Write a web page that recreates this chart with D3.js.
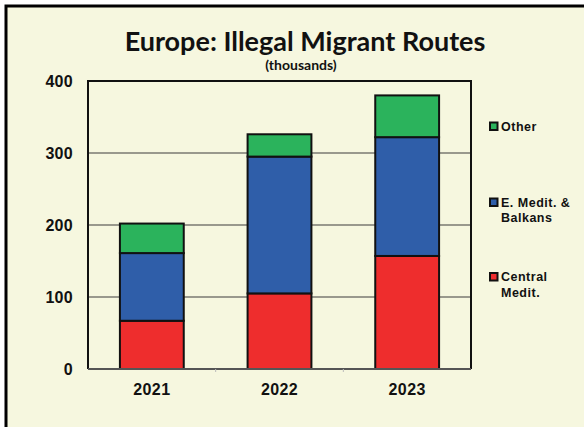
<!DOCTYPE html>
<html>
<head>
<meta charset="utf-8">
<script src="https://cdn.jsdelivr.net/npm/d3@7"></script>
<style>
  html, body { margin: 0; padding: 0; background: #fff; }
  svg { display: block; }
</style>
</head>
<body>
<svg id="chart" width="584" height="427"></svg>
<script>
// Data (thousands of detections)
const years = ["2021", "2022", "2023"];
const centralMedit = [67, 105, 157];
const eastMeditBalkans = [94, 190, 165];
const other = [41, 31, 58];
const yTicks = [0, 100, 200, 300, 400];

const seriesNames = ["Central Medit.", "E. Medit. & Balkans", "Other"];
const seriesColors = ["#ee2d2d", "#2f5ea9", "#2bb35c"];
const legendLines = [["Other"], ["E. Medit. &", "Balkans"], ["Central", "Medit."]];

const rows = years.map((y, i) => ({
  year: y,
  "Central Medit.": centralMedit[i],
  "E. Medit. & Balkans": eastMeditBalkans[i],
  "Other": other[i]
}));

const svg = d3.select("#chart");
const W = 584, H = 427;
const bg = "#f6f7df";
const sans = "Liberation Sans, Arial, sans-serif";

// Panel background and frame
svg.append("rect").attr("x", 0).attr("y", 0).attr("width", W).attr("height", H).attr("fill", "#fff");
svg.append("rect").attr("x", 6).attr("y", 6).attr("width", W + 20).attr("height", H + 20)
  .attr("fill", bg).attr("stroke", "#000").attr("stroke-width", 3);

const plot = { left: 88, right: 471, top: 81, bottom: 369 };

const x = d3.scaleBand().domain(years).range([plot.left, plot.right]).paddingInner(0.5).paddingOuter(0.25);
const y = d3.scaleLinear().domain([0, 400]).range([plot.bottom, plot.top]);

// Gridlines
svg.append("g").selectAll("line").data(yTicks.filter(t => t > 0 && t < 400)).join("line")
  .attr("x1", plot.left).attr("x2", plot.right)
  .attr("y1", d => y(d)).attr("y2", d => y(d))
  .attr("stroke", "#7a7a72").attr("stroke-width", 1.5);

// Stacked bars
const stack = d3.stack().keys(seriesNames);
const layers = stack(rows);
const g = svg.append("g");
layers.forEach((layer, li) => {
  g.append("g").selectAll("rect").data(layer).join("rect")
    .attr("x", d => x(d.data.year))
    .attr("width", x.bandwidth())
    .attr("y", d => y(d[1]))
    .attr("height", d => y(d[0]) - y(d[1]))
    .attr("fill", seriesColors[li])
    .attr("stroke", "#111")
    .attr("stroke-width", 2);
});

// Plot frame: top, left, right in black
svg.append("path")
  .attr("d", `M${plot.left},${plot.bottom}V${plot.top}H${plot.right}V${plot.bottom}`)
  .attr("fill", "none").attr("stroke", "#111").attr("stroke-width", 2);

// Bottom axis
const xAxis = d3.axisBottom(x).tickSize(0).tickPadding(15);
const xa = svg.append("g").attr("transform", `translate(0,${plot.bottom})`).call(xAxis);
xa.select(".domain").remove();
svg.append("line").attr("x1", plot.left).attr("x2", plot.right)
  .attr("y1", plot.bottom).attr("y2", plot.bottom)
  .attr("stroke", "#555").attr("stroke-width", 2);
// small separators between categories
const step = x.step();
const sepX = d => plot.left + x.paddingOuter() * step + d * step - x.paddingInner() * step / 2;
svg.append("g").selectAll("line").data(d3.range(1, years.length)).join("line")
  .attr("x1", sepX).attr("x2", sepX)
  .attr("y1", plot.bottom).attr("y2", plot.bottom + 3)
  .attr("stroke", "#bbb").attr("stroke-width", 1);
xa.selectAll("text")
  .attr("font-family", sans).attr("letter-spacing", 0.4)
  .attr("font-weight", "bold").attr("font-size", 16).attr("fill", "#111");

// Left axis labels
const yAxis = d3.axisLeft(y).tickValues(yTicks).tickSize(0).tickPadding(15);
const ya = svg.append("g").attr("transform", `translate(${plot.left},0)`).call(yAxis);
ya.select(".domain").remove();
ya.selectAll("text")
  .attr("font-family", sans).attr("letter-spacing", 0.3)
  .attr("font-weight", "bold").attr("font-size", 16).attr("fill", "#111");

// Titles
svg.append("text").attr("x", 305).attr("y", 51).attr("text-anchor", "middle")
  .attr("font-family", "Lato, 'Open Sans', sans-serif").attr("font-weight", "bold")
  .attr("font-size", 27).attr("fill", "#111").text("Europe: Illegal Migrant Routes");
svg.append("text").attr("x", 301).attr("y", 70).attr("text-anchor", "middle")
  .attr("font-family", "Lato, 'Open Sans', sans-serif").attr("font-weight", "bold")
  .attr("font-size", 14).attr("fill", "#111").text("(thousands)");

// Legend (top to bottom: Other, E. Medit. & Balkans, Central Medit.)
const legendY = [126, 202, 276.5];
const legendColor = [seriesColors[2], seriesColors[1], seriesColors[0]];
const lg = svg.append("g");
legendLines.forEach((lines, i) => {
  lg.append("rect").attr("x", 490).attr("y", legendY[i] - 3.5).attr("width", 7.5).attr("height", 7.5)
    .attr("fill", legendColor[i]).attr("stroke", "#111").attr("stroke-width", 2);
  lines.forEach((t, j) => {
    lg.append("text").attr("x", 501).attr("y", legendY[i] + 4.5 + j * 15.5)
      .attr("font-family", sans).attr("font-weight", "bold").attr("letter-spacing", 0.5)
      .attr("font-size", 12.5).attr("fill", "#111").text(t);
  });
});
</script>
</body>
</html>
